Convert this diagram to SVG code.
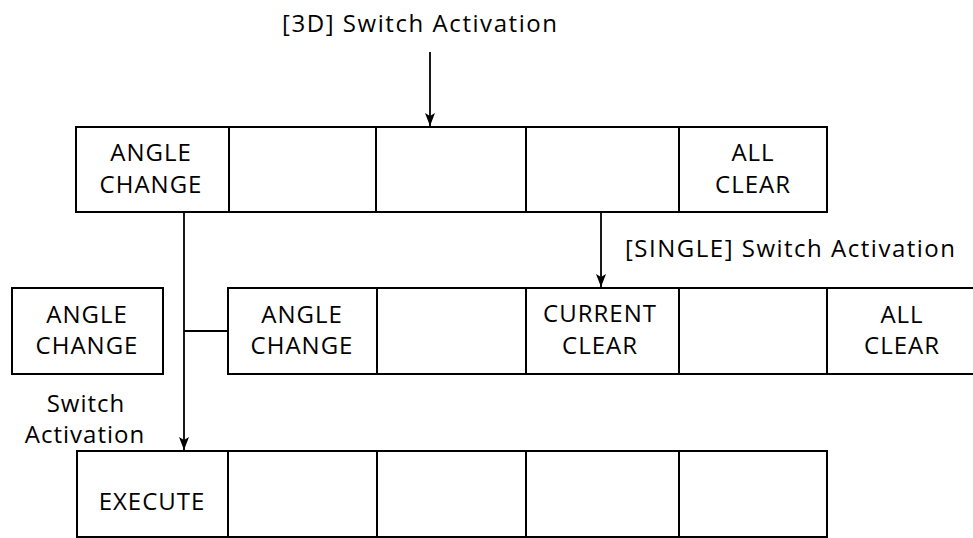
<svg xmlns="http://www.w3.org/2000/svg" width="973" height="538" viewBox="0 0 973 538">
<defs>
<style>
.b{fill:#fff;stroke:#000;stroke-width:2}
.c{fill:none;stroke:#000;stroke-width:1.8}
text{font-family:"Open Sans","DejaVu Sans",sans-serif;font-size:24px;fill:#000;text-anchor:middle;letter-spacing:1px}
.l{text-anchor:start;letter-spacing:0}
</style>
<marker id="ah" markerUnits="userSpaceOnUse" markerWidth="10" markerHeight="14" refX="5" refY="13" orient="auto-start-reverse" viewBox="0 0 10 14">
<path d="M0,0 L5,13 L10,0 L5,4 Z" fill="#000" transform="rotate(-90 5 7)"/>
</marker>
<marker id="arr" markerUnits="userSpaceOnUse" markerWidth="14" markerHeight="10" refX="13" refY="5" orient="auto" viewBox="0 0 14 10">
<path d="M0,0 L13,5 L0,10 L3,5 Z" fill="#000"/>
</marker>
</defs>
<rect width="973" height="538" fill="#fff"/>
<text class="l" x="282" y="32" textLength="275" lengthAdjust="spacing">[3D]  Switch Activation</text>
<text class="l" x="625" y="257" textLength="330" lengthAdjust="spacing">[SINGLE]  Switch Activation</text>
<text x="86" y="412">Switch</text>
<text x="85" y="443">Activation</text>
<g id="top-row">
<g id="t1"><rect class="b" x="76" y="127" width="153" height="85"/><text x="151" y="161">ANGLE</text><text x="151" y="193">CHANGE</text></g>
<g id="t2"><rect class="b" x="229" y="127" width="147" height="85"/></g>
<g id="t3"><rect class="b" x="376" y="127" width="150" height="85"/></g>
<g id="t4"><rect class="b" x="526" y="127" width="153" height="85"/></g>
<g id="t5"><rect class="b" x="679" y="127" width="148" height="85"/><text x="753" y="161">ALL</text><text x="753" y="193">CLEAR</text></g>
</g>
<g id="left-box"><rect class="b" x="12" y="288" width="151" height="86"/><text x="87" y="323">ANGLE</text><text x="87" y="354">CHANGE</text></g>
<g id="mid-row">
<g id="m1"><rect class="b" x="228" y="288" width="149" height="86"/><text x="302" y="323">ANGLE</text><text x="302" y="354">CHANGE</text></g>
<g id="m2"><rect class="b" x="377" y="288" width="149" height="86"/></g>
<g id="m3"><rect class="b" x="526" y="288" width="153" height="86"/><text x="600" y="322">CURRENT</text><text x="600" y="354">CLEAR</text></g>
<g id="m4"><rect class="b" x="679" y="288" width="148" height="86"/></g>
<g id="m5"><rect class="b" x="827" y="288" width="160" height="86"/><text x="902" y="323">ALL</text><text x="902" y="354">CLEAR</text></g>
</g>
<g id="bottom-row">
<g id="b1"><rect class="b" x="77" y="451" width="151" height="86"/><text x="152" y="510">EXECUTE</text></g>
<g id="b2"><rect class="b" x="228" y="451" width="149" height="86"/></g>
<g id="b3"><rect class="b" x="377" y="451" width="149" height="86"/></g>
<g id="b4"><rect class="b" x="526" y="451" width="153" height="86"/></g>
<g id="b5"><rect class="b" x="679" y="451" width="148" height="86"/></g>
</g>
<g id="connectors">
<line class="c" x1="430" y1="52" x2="430" y2="126" marker-end="url(#arr)"/>
<line class="c" x1="601" y1="212" x2="601" y2="287" marker-end="url(#arr)"/>
<line class="c" x1="184" y1="212" x2="184" y2="450" marker-end="url(#arr)"/>
<line class="c" x1="184" y1="331" x2="228" y2="331"/>
</g>
</svg>
